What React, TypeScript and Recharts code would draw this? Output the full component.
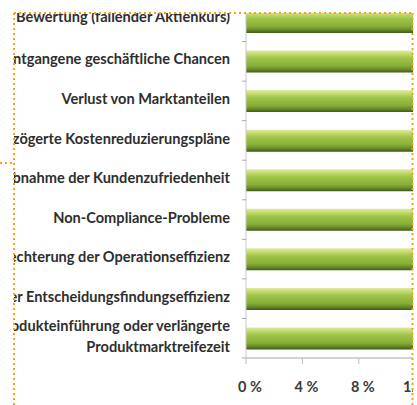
import React from 'react';
import { BarChart, Bar, XAxis, YAxis } from 'recharts';

const categories = [
  'Geringere Bewertung (fallender Aktienkurs)',
  'Entgangene geschäftliche Chancen',
  'Verlust von Marktanteilen',
  'Verzögerte Kostenreduzierungspläne',
  'Abnahme der Kundenzufriedenheit',
  'Non-Compliance-Probleme',
  'Verschlechterung der Operationseffizienz',
  'Verschlechterung der Entscheidungsfindungseffizienz',
  'Verzögerte Produkteinführung oder verlängerte\nProduktmarktreifezeit',
];
const values = [0.3, 0.28, 0.26, 0.24, 0.22, 0.2, 0.19, 0.18, 0.16];
const xTicks = [0, 0.04, 0.08, 0.12, 0.16, 0.2, 0.24, 0.28, 0.32, 0.36, 0.4];

const data = categories.map((name, i) => ({ name, value: values[i] }));

const AXIS_X = 246;
const TOP = 2;
const PLOT_H = 356;
const PITCH = PLOT_H / categories.length;
const FONT = 'Lato, "Open Sans", sans-serif';

const YTick = (props: any) => {
  const { y, payload, index } = props;
  const lines = String(payload.value).split('\n');
  const lh = 21;
  const shift = index === 0 ? -5 : -2;
  const start = y - ((lines.length - 1) * lh) / 2 + shift;
  return (
    <g>
      <text textAnchor="end" fontFamily={FONT} fontWeight={700} fontSize={14.6} fill="#2e2e2e">
        {lines.map((l, i) => (
          <tspan key={i} x={AXIS_X - 16} y={start + i * lh} dy="0.35em">
            {l}
          </tspan>
        ))}
      </text>
      <line x1={AXIS_X - 4} x2={AXIS_X} y1={y + PITCH / 2} y2={y + PITCH / 2} stroke="#aaa" />
    </g>
  );
};

export default function App() {
  return (
    <div
      style={{
        position: 'absolute',
        left: 0,
        top: 0,
        width: 417,
        height: 405,
        overflow: 'hidden',
        background: '#fff',
      }}
    >
      <div
        style={{
          position: 'absolute',
          left: 14,
          top: 13,
          width: 398.5,
          height: 392,
          overflow: 'hidden',
        }}
      >
        <div style={{ position: 'absolute', left: -14, top: -13 }}>
          <BarChart
            width={810}
            height={400}
            data={data}
            layout="vertical"
            margin={{ top: TOP, right: 0, left: 0, bottom: 0 }}
            barSize={22}
          >
            <defs>
              <linearGradient id="barGrad" x1="0" y1="0" x2="0" y2="1">
                <stop offset="0" stopColor="#dfeaa6" />
                <stop offset="0.15" stopColor="#c6dc70" />
                <stop offset="0.35" stopColor="#9fc449" />
                <stop offset="0.7" stopColor="#87ae37" />
                <stop offset="0.86" stopColor="#678a28" />
                <stop offset="1" stopColor="#3e5a19" />
              </linearGradient>
            </defs>
            <XAxis
              type="number"
              domain={[0, 0.4]}
              ticks={xTicks}
              height={42}
              axisLine={{ stroke: '#a6a6a6' }}
              tickLine={{ stroke: '#bbb' }}
              tickSize={6}
              tickMargin={18}
              tickFormatter={(v: number) => `${Math.round(v * 100)} %`}
              tick={{ fontFamily: FONT, fontWeight: 700, fontSize: 14.5, fill: '#3a3a3a', dx: 4 }}
            />
            <YAxis
              type="category"
              dataKey="name"
              width={AXIS_X}
              axisLine={{ stroke: '#c8c8c8' }}
              tickLine={false}
              interval={0}
              tick={<YTick />}
            />
            <Bar dataKey="value" fill="url(#barGrad)" isAnimationActive={false} />
          </BarChart>
        </div>
      </div>
      <svg
        width={417}
        height={405}
        style={{ position: 'absolute', left: 0, top: 0, pointerEvents: 'none' }}
      >
        <g stroke="#f5a31a" strokeWidth={2} strokeDasharray="2 3">
          <line x1={14} y1={13} x2={413} y2={13} />
          <line x1={14} y1={13} x2={14} y2={405} />
          <line x1={412.5} y1={13} x2={412.5} y2={405} />
          <line x1={0} y1={163} x2={14} y2={163} />
        </g>
      </svg>
    </div>
  );
}
